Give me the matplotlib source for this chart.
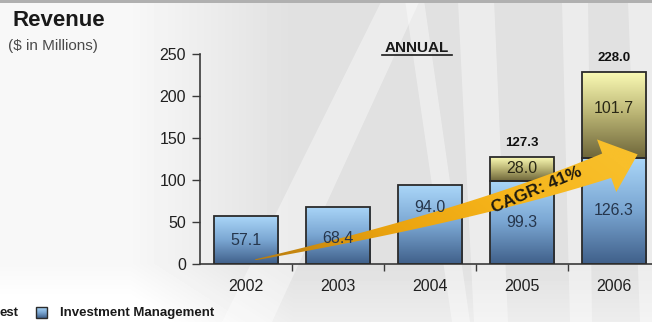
import numpy as np
import matplotlib.pyplot as plt
from matplotlib.colors import LinearSegmentedColormap
from matplotlib.patches import Polygon, Rectangle

plt.rcParams['font.family'] = ['Liberation Sans', 'DejaVu Sans']

years = ["2002", "2003", "2004", "2005", "2006"]
investment_mgmt = [57.1, 68.4, 94.0, 99.3, 126.3]
other_rev = [0.0, 0.0, 0.0, 28.0, 101.7]
totals = [None, None, None, 127.3, 228.0]
yticks = [0, 50, 100, 150, 200, 250]
cagr_text = "CAGR: 41%"

# where the value sits inside each segment (fraction of segment height)
im_label_pos = [0.5, 0.45, 0.71, 0.5, 0.5]
other_label_pos = [0.5, 0.5, 0.5, 0.5, 0.58]

blue = LinearSegmentedColormap.from_list("blue", ["#40608a", "#7aa6d2", "#aad6f8"])
olive = LinearSegmentedColormap.from_list("olive", ["#6e663a", "#b8b272", "#fafab4"])
gold = LinearSegmentedColormap.from_list("gold", ["#b87c10", "#e9a20e", "#f6b41a", "#f8bf2a"])

W, H = 652, 322
fig = plt.figure(figsize=(W / 100, H / 100), dpi=100)

# ---- background: grey wash with white streaks ----
bg = fig.add_axes([0, 0, 1, 1], zorder=0)
bg.set_xlim(0, W)
bg.set_ylim(H, 0)
bg.set_axis_off()
xx, yy = np.meshgrid(np.linspace(0, 1, W), np.linspace(0, 1, H))
shade = 0.97 - 0.09 * np.clip((xx - 0.2) / 0.25, 0, 1) + 0.05 * np.clip((yy - 0.82) / 0.18, 0, 1)
bg.imshow(shade, cmap="gray", vmin=0, vmax=1, extent=[0, W, H, 0], aspect="auto")
streaks = [
    [(222, 322), (272, 322), (420, 0), (382, 0)],
    [(405, 0), (424, 0), (470, 322), (452, 322)],
    [(458, 0), (494, 0), (508, 322), (474, 322)],
    [(562, 0), (588, 0), (592, 322), (570, 322)],
    [(628, 0), (652, 0), (652, 322), (640, 322)],
]
for s in streaks:
    bg.add_patch(Polygon(s, closed=True, facecolor="white", edgecolor="none", alpha=0.4))
bg.add_patch(Rectangle((0, 0), W, 3, facecolor="#b0b0b0", edgecolor="none"))

bg.text(12, 26, "Revenue", fontsize=16, fontweight="bold", color="#1a1a1a", va="baseline")
bg.text(8, 50, "($ in Millions)", fontsize=11, color="#4a4a4a", va="baseline")
bg.text(417, 52, "ANNUAL", fontsize=11, fontweight="bold", color="#1a1a1a",
        ha="center", va="baseline")
bg.plot([382, 452], [55, 55], color="#1a1a1a", lw=1.2)

# legend along the bottom
bg.text(0, 313, "est", fontsize=9.5, fontweight="bold", color="#1a1a1a", va="center")
sq = Rectangle((36, 307), 11, 11, facecolor="none", edgecolor="#2b2b2b", lw=1)
bg.add_patch(sq)
g = bg.imshow(np.linspace(1, 0, 64).reshape(-1, 1), cmap=blue, extent=[36, 47, 318, 307],
              aspect="auto")
g.set_clip_path(sq)
bg.text(60, 313, "Investment Management", fontsize=9.5, fontweight="bold",
        color="#1a1a1a", va="center")

# ---- main chart ----
ax = fig.add_axes([200 / W, 58 / H, 460 / W, 210 / H], zorder=1)
ax.patch.set_alpha(0)
ax.set_xlim(-0.5, 4.5)
ax.set_ylim(0, 250)
bar_w = 0.7


def grad_bar(x, bottom, height, cmap):
    r = Rectangle((x - bar_w / 2, bottom), bar_w, height, facecolor="none",
                  edgecolor="#2b2b2b", lw=1.3, zorder=3)
    ax.add_patch(r)
    im = ax.imshow(np.linspace(0, 1, 128).reshape(-1, 1), cmap=cmap, origin="lower",
                   extent=[x - bar_w / 2, x + bar_w / 2, bottom, bottom + height],
                   aspect="auto", zorder=2)
    im.set_clip_path(r)


for i in range(len(years)):
    grad_bar(i, 0, investment_mgmt[i], blue)
    ax.text(i, investment_mgmt[i] * im_label_pos[i], f"{investment_mgmt[i]:.1f}",
            ha="center", va="center", fontsize=11.5, color="#26364c", zorder=6)
    if other_rev[i] > 0:
        grad_bar(i, investment_mgmt[i], other_rev[i], olive)
        ax.text(i, investment_mgmt[i] + other_rev[i] * other_label_pos[i], f"{other_rev[i]:.1f}",
                ha="center", va="center", fontsize=11.5, color="#2a2816", zorder=6)
    if totals[i] is not None:
        ax.annotate(f"{totals[i]:.1f}", (i, totals[i]), xytext=(0, 6),
                    textcoords="offset points", ha="center", va="bottom",
                    fontsize=9.5, fontweight="bold", color="#111111", zorder=6)

ax.set_xlim(-0.5, 4.5)
ax.set_ylim(0, 250)

# growth arrow: tapered curve defined in data units, shaped in pixels
arrow_tail = (0.1, 5)
arrow_ctrl = (2.45, 58)
arrow_head = (3.92, 117)
P = ax.transData.transform([arrow_tail, arrow_ctrl, arrow_head])
t = np.linspace(0, 1, 80)[:, None]
curve = (1 - t) ** 2 * P[0] + 2 * (1 - t) * t * P[1] + t ** 2 * P[2]
tang = 2 * (1 - t) * (P[1] - P[0]) + 2 * t * (P[2] - P[1])
tang = tang / np.linalg.norm(tang, axis=1, keepdims=True)
norm = np.column_stack([-tang[:, 1], tang[:, 0]])
half = (0.5 + 12.5 * t)
upper = curve + norm * half
lower = curve - norm * half
d_end, n_end = tang[-1], norm[-1]
tip = P[2] + d_end * 33
head_up = P[2] + n_end * 28
head_lo = P[2] - n_end * 28
poly = np.vstack([upper, head_up, tip, head_lo, lower[::-1]])
poly = ax.transData.inverted().transform(poly)
arrow = Polygon(poly, closed=True, facecolor="none", edgecolor="none", zorder=4)
ax.add_patch(arrow)
x0, x1 = poly[:, 0].min(), poly[:, 0].max()
y0, y1 = poly[:, 1].min(), poly[:, 1].max()
gx, gy = np.meshgrid(np.linspace(0, 1, 200), np.linspace(0, 1, 80))
ga = ax.imshow(np.clip(0.8 * gx + 0.3 * gy, 0, 1), cmap=gold, origin="lower",
               extent=[x0, x1, y0, y1], aspect="auto", zorder=4)
ga.set_clip_path(arrow)
ax.text(3.16, 88, cagr_text, rotation=23, ha="center", va="center", fontsize=12.5,
        fontweight="bold", color="#1e1a10", zorder=7, rotation_mode="anchor")

ax.set_xlim(-0.5, 4.5)
ax.set_ylim(0, 250)

for side in ["top", "right"]:
    ax.spines[side].set_visible(False)
for side in ["left", "bottom"]:
    ax.spines[side].set_color("#3a3a3a")
    ax.spines[side].set_linewidth(1.2)
ax.set_yticks(yticks)
ax.tick_params(axis="y", length=6, width=1, color="#3a3a3a", labelsize=11.5,
               labelcolor="#202020", pad=4)
ax.set_xticks(range(len(years)))
ax.set_xticklabels(years)
ax.set_xticks([i + 0.5 for i in range(len(years) - 1)], minor=True)
ax.tick_params(axis="x", which="major", length=0, labelsize=11.5, labelcolor="#202020", pad=11)
ax.tick_params(axis="x", which="minor", length=5, width=1, color="#3a3a3a")

fig.savefig("out.png", dpi=100)
